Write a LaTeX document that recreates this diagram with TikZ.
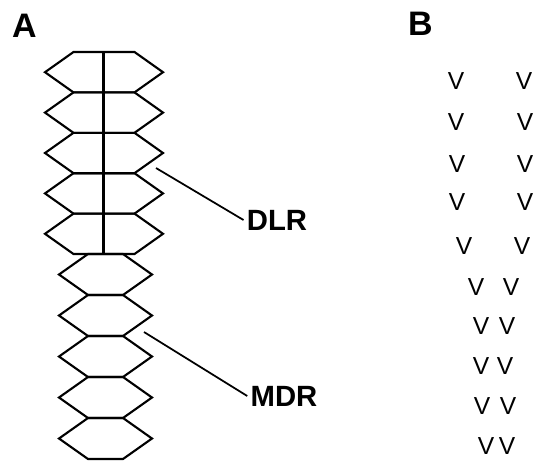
\documentclass[tikz,border=0pt]{standalone}
\usepackage{fontspec}
\setmainfont{Liberation Sans}

\tikzset{
  panel/.style={font=\fontsize{29}{29}\selectfont\bfseries},
  region/.style={font=\fontsize{25}{25}\selectfont\bfseries, inner sep=2pt},
  vmark/.style={font=\fontsize{21}{21}\selectfont, inner sep=0pt}
}

\begin{document}
\begin{tikzpicture}[x=0.03cm,y=-0.03cm,line width=1.8pt]
    \useasboundingbox (0,0) rectangle (534,462);

    % Letras de los paneles
    \node[panel] (pa) at (24.5,26) {A};
    \node[panel] (pb) at (420.5,24) {B};

    % hexagonos anchos (DLR)
    \foreach \i in {0,...,4}{
      \begin{scope}[shift={(104,{52+\i*40.4})}]
        \draw (-30.5,0) -- (30.5,0) -- (59,20.2) -- (30.5,40.4) -- (-30.5,40.4) -- (-59,20.2) -- cycle;
      \end{scope}
    }
    \draw (103.5,52) -- (103.5,254);

    % hexagonos estrechos (MDR)
    \foreach \i in {0,...,4}{
      \begin{scope}[shift={(105.5,{254+\i*41})}]
        \draw (-17.5,0) -- (17.5,0) -- (46.5,20.5) -- (17.5,41) -- (-17.5,41) -- (-46.5,20.5) -- cycle;
      \end{scope}
    }

    % Etiquetas
    \node[region] (dlr) at (277,220) {DLR};
    \node[region] (mdr) at (284,396) {MDR};
    \coordinate (dlrtip) at (156,168);
    \coordinate (mdrtip) at (144,332);
    \draw[line width=1.5pt] (dlrtip) -- (dlr.west);
    \draw[line width=1.5pt] (mdrtip) -- (mdr.west);

    % panel B
    \foreach \xa/\xb/\y [count=\i] in {456/524/81, 456/525/122, 457/525/164, 457/525/202,
        464/522/246, 476/511/287, 481/507/326, 481/505/366, 482/508/406, 486/507/446}{
      \node[vmark] (vl\i) at (\xa,\y) {V};
      \node[vmark] (vr\i) at (\xb,\y) {V};
    }
  \end{tikzpicture}
\end{document}
